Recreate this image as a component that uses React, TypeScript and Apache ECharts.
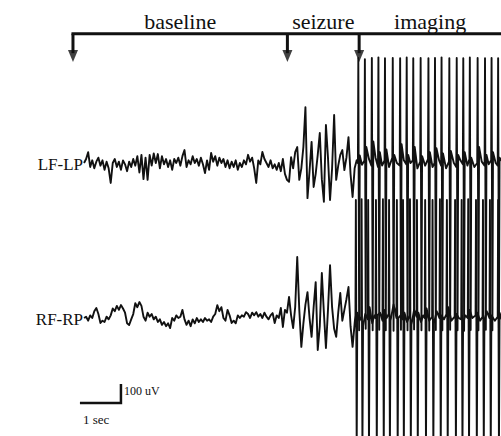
import React, { useEffect, useRef } from "react";
import * as echarts from "echarts";

// ---- data ----
const DT = 0.05; // seconds per sample (baseline + seizure part)
const CHANNELS = ["LF-LP", "RF-RP"];
const PHASES = ["baseline", "seizure", "imaging"];
const PHASE_ONSETS = [-0.27, 4.96, 6.71]; // s
const SCALE_TIME = 1; // s
const SCALE_AMP = 100; // uV

// LF-LP, uniformly sampled from t = 0 (uV)
const LF_LP = [
  0, 21, 57, -21, 14, -28, 7, 28, -14, 14,
  -36, 7, -28, -105, 0, 21, -21, 7, -36, 14,
  -7, -43, 7, -21, 21, -14, 36, -50, 43, -85,
  28, -89, 43, -14, 50, 0, 47, -28, 36, -7,
  21, -21, 14, -36, 21, 0, 28, -14, 36, 68,
  -21, 14, -7, 36, 0, 21, -14, 28, -7, -53,
  14, -36, 53, 7, 36, -14, 28, 0, 21, -21,
  14, -28, 7, -21, 14, -36, 0, -21, 14, -7,
  43, 7, 28, -28, -105, 14, -7, 58, 21, 0,
  -21, 14, -28, -7, -36, 0, -43, 21, -57, -89,
  -99, 31, -28, 57, 84, -89, -28, 85, 294, -185,
  -43, 111, -126, -57, 43, 158, -85, -204, 200, 28,
  -195, -28, 253, -89, -14, 43, 68, -37, 28, 136,
  -57, -179, -28, 14,
];

// LF-LP during imaging: [time s, uV]
const LF_LP_IMAGING = [
  [6.68, 0], [6.69, 553], [6.71, -880], [6.725, 40], [6.78, -10],
  [6.84, 14], [6.85, 547], [6.87, -873], [6.885, 85], [6.95, 20],
  [7.01, -14], [7.02, 553], [7.04, -880], [7.055, 114], [7.11, 28],
  [7.17, -21], [7.18, 556], [7.2, -878], [7.215, 57], [7.27, -14],
  [7.33, 14], [7.34, 551], [7.36, -880], [7.375, 71], [7.44, -21],
  [7.52, 28], [7.53, 553], [7.55, -883], [7.565, 43], [7.63, 0],
  [7.7, -14], [7.71, 552], [7.73, -878], [7.745, 99], [7.8, 14],
  [7.86, -7], [7.87, 555], [7.89, -880], [7.905, 43], [7.96, 0],
  [8.02, 14], [8.03, 551], [8.05, -876], [8.065, 85], [8.13, -28],
  [8.2, 7], [8.21, 553], [8.23, -880], [8.245, 36], [8.32, -14],
  [8.39, 21], [8.4, 552], [8.42, -882], [8.435, 57], [8.5, -21],
  [8.55, 0], [8.56, 553], [8.58, -879], [8.595, 78], [8.66, 14],
  [8.71, -14], [8.72, 556], [8.74, -880], [8.755, 50], [8.83, -28],
  [8.9, 7], [8.91, 551], [8.93, -878], [8.945, 64], [9.02, 0],
  [9.08, -21], [9.09, 553], [9.11, -880], [9.125, 43], [9.18, 14],
  [9.24, -7], [9.25, 552], [9.27, -883], [9.285, 57], [9.35, -14],
  [9.4, 21], [9.41, 555], [9.43, -879], [9.445, 28], [9.52, -21],
  [9.59, 0], [9.6, 553], [9.62, -880], [9.635, 85], [9.7, 7],
  [9.77, -14], [9.78, 551], [9.8, -878], [9.815, 43], [9.87, -7],
  [9.93, 14], [9.94, 553], [9.96, -880], [9.975, 57], [10.04, 0],
  [10.09, -14], [10.1, 552], [10.12, -880], [10.135, 28], [10.2, 7],
];

// RF-RP, uniformly sampled from t = 0 (uV)
const RF_RP = [
  0, 7, -14, 14, 0, 36, 53, 21, -26, -14,
  -21, 7, -7, 14, 50, 36, 64, 43, 68, 50,
  28, -28, -37, -7, 21, 78, 57, 84, 64, 7,
  -14, 28, 7, 21, -7, 7, -21, -7, -36, -21,
  -43, -28, -53, 0, -14, 14, 0, 7, 43, -7,
  -36, -14, -43, -7, -28, 0, -21, -7, -21, 0,
  -14, -7, -21, 7, 21, 68, 36, 57, 0, -14,
  43, 14, -26, -14, -28, 14, 0, 14, 7, 31,
  21, 0, 28, 14, 31, 7, 21, 0, 28, 7,
  -7, 14, 26, -26, 14, 0, 53, -47, 43,
  28, 111, 14, -53, 58, 321, 43, -152, -28, 71,
  136, 0, -99, 57, 189, -168, -43, 237, 28, -158,
  43, 278, 57, -57, -99, 28, 132, -14, 43, 99,
  163, -43, -152, -28,
];

// RF-RP during imaging: [time s, uV]
const RF_RP_IMAGING = [
  [6.62, 14], [6.63, 621], [6.65, -684], [6.665, 28], [6.72, -14],
  [6.76, 7], [6.77, 625], [6.79, -684], [6.805, -43], [6.86, 21],
  [6.92, -7], [6.93, 621], [6.95, -684], [6.965, 57], [7.03, -28], [7.08, 14],
  [7.11, 0], [7.12, 621], [7.14, -684], [7.155, 14], [7.22, 28],
  [7.28, -14], [7.29, 625], [7.31, -684], [7.325, 43], [7.38, 0],
  [7.43, 21], [7.44, 621], [7.46, -684], [7.475, -14], [7.55, 71],
  [7.62, 0], [7.63, 621], [7.65, -684], [7.665, 0], [7.72, 14],
  [7.77, -7], [7.78, 621], [7.8, -684], [7.815, 28], [7.88, -21],
  [7.94, 14], [7.95, 625], [7.97, -684], [7.985, -36], [8.05, 43],
  [8.11, 7], [8.12, 621], [8.14, -684], [8.155, 28], [8.22, -21], [8.27, 14],
  [8.31, 0], [8.32, 621], [8.34, -684], [8.355, 50], [8.42, -14],
  [8.49, 7], [8.5, 621], [8.52, -684], [8.535, -28], [8.6, 36],
  [8.67, 0], [8.68, 625], [8.7, -684], [8.715, 14], [8.78, -7],
  [8.84, 21], [8.85, 621], [8.87, -684], [8.885, 57], [8.96, -14],
  [9.04, 7], [9.05, 621], [9.07, -684], [9.085, 21], [9.14, 0],
  [9.2, -7], [9.21, 621], [9.23, -684], [9.245, -28], [9.3, 14],
  [9.36, 0], [9.37, 625], [9.39, -684], [9.405, 43], [9.47, 0],
  [9.55, 14], [9.56, 621], [9.58, -684], [9.595, 28], [9.66, -14],
  [9.72, 7], [9.73, 621], [9.75, -684], [9.765, -21], [9.82, 36],
  [9.89, 0], [9.9, 621], [9.92, -684], [9.935, 14], [10.02, -14],
  [10.09, 7], [10.1, 621], [10.12, -684], [10.135, 28], [10.2, -14],
];

// ---- layout ----
const W = 501;
const H = 436;
const X_MIN = -2.05;
const X_MAX = 10.17;
const Y_MIN = 0;
const Y_MAX = 2295;
const CHANNEL_OFFSET = [1437, 621];
const BRACKET_Y = 2118;
const STEM_END = 2015;
const HEAD_Y = 2000;
const SB_T0 = -0.1;
const SB_Y0 = 174;
const INK = "#111";
const SERIF = "'Liberation Serif', 'Times New Roman', 'DejaVu Serif', serif";

export default function App() {
  const ref = useRef<HTMLDivElement>(null);

  useEffect(() => {
    if (!ref.current) return;
    const chart = echarts.init(ref.current, null, { renderer: "svg" });
    const uniform = [LF_LP, RF_RP];
    const imaging = [LF_LP_IMAGING, RF_RP_IMAGING];

    const traceSeries = uniform.map((vals, c) => ({
      type: "line",
      name: CHANNELS[c],
      data: [
        ...vals.map((v, i) => [i * DT, v + CHANNEL_OFFSET[c]]),
        ...imaging[c].map(([t, v]) => [t, v + CHANNEL_OFFSET[c]]),
      ],
      showSymbol: false,
      symbol: "none",
      silent: true,
      clip: true,
      lineStyle: { color: INK, width: 1.9, join: "round" },
      z: 2,
    }));

    const stemSeries = PHASE_ONSETS.map((t) => ({
      type: "line",
      data: [
        [t, BRACKET_Y],
        [t, STEM_END],
      ],
      showSymbol: false,
      symbol: "none",
      silent: true,
      clip: false,
      lineStyle: { color: INK, width: 3, cap: "butt" },
      z: 3,
    }));

    const option: any = {
      animation: false,
      backgroundColor: "#fff",
      grid: { left: 0, top: 0, width: W, height: H, containLabel: false },
      xAxis: { type: "value", min: X_MIN, max: X_MAX, show: false, splitLine: { show: false } },
      yAxis: { type: "value", min: Y_MIN, max: Y_MAX, show: false, splitLine: { show: false } },
      tooltip: { show: false },
      series: [
        ...traceSeries,
        {
          type: "line",
          data: [
            [PHASE_ONSETS[0], BRACKET_Y],
            [X_MAX, BRACKET_Y],
          ],
          showSymbol: false,
          symbol: "none",
          silent: true,
          clip: false,
          lineStyle: { color: INK, width: 3, cap: "square" },
          z: 3,
        },
        ...stemSeries,
        {
          type: "scatter",
          data: PHASE_ONSETS.map((t) => [t, HEAD_Y]),
          symbol: "triangle",
          symbolRotate: 180,
          symbolSize: [10, 12],
          silent: true,
          itemStyle: { color: INK },
          z: 4,
        },
        {
          type: "line",
          data: [
            [SB_T0, SB_Y0],
            [SB_T0 + SCALE_TIME, SB_Y0],
            [SB_T0 + SCALE_TIME, SB_Y0 + SCALE_AMP],
          ],
          showSymbol: false,
          symbol: "none",
          silent: true,
          clip: false,
          lineStyle: { color: INK, width: 2.5, join: "miter", cap: "butt" },
          z: 3,
        },
      ],
    };
    chart.setOption(option);

    const px = (t: number, v: number) =>
      chart.convertToPixel({ gridIndex: 0 }, [t, v]) as number[];

    const phaseEnds = [...PHASE_ONSETS.slice(1), X_MAX];
    const graphics: any[] = [];
    PHASES.forEach((name, k) => {
      const mid = (PHASE_ONSETS[k] + phaseEnds[k]) / 2;
      const p = px(mid, BRACKET_Y);
      graphics.push({
        type: "text",
        x: p[0],
        y: 21,
        style: {
          text: name,
          fontFamily: SERIF,
          fontSize: 22,
          fill: INK,
          align: "center",
          verticalAlign: "middle",
        },
      });
    });
    CHANNELS.forEach((name, c) => {
      const p = px(0, CHANNEL_OFFSET[c]);
      graphics.push({
        type: "text",
        x: p[0] - 1,
        y: p[1] + 1,
        style: {
          text: name,
          fontFamily: SERIF,
          fontSize: 17,
          fill: INK,
          align: "right",
          verticalAlign: "middle",
        },
      });
    });
    const sbTop = px(SB_T0 + SCALE_TIME, SB_Y0 + SCALE_AMP);
    const sbLeft = px(SB_T0, SB_Y0);
    graphics.push({
      type: "text",
      x: sbTop[0] + 3,
      y: sbTop[1] + 7,
      style: {
        text: `${SCALE_AMP} uV`,
        fontFamily: SERIF,
        fontSize: 12,
        fill: INK,
        align: "left",
        verticalAlign: "middle",
      },
    });
    graphics.push({
      type: "text",
      x: sbLeft[0] + 3,
      y: sbLeft[1] + 17,
      style: {
        text: `${SCALE_TIME} sec`,
        fontFamily: SERIF,
        fontSize: 13,
        fill: INK,
        align: "left",
        verticalAlign: "middle",
      },
    });
    chart.setOption({ graphic: graphics });

    return () => chart.dispose();
  }, []);

  return (
    <div
      ref={ref}
      style={{ position: "absolute", left: 0, top: 0, width: W, height: H, background: "#fff" }}
    />
  );
}
